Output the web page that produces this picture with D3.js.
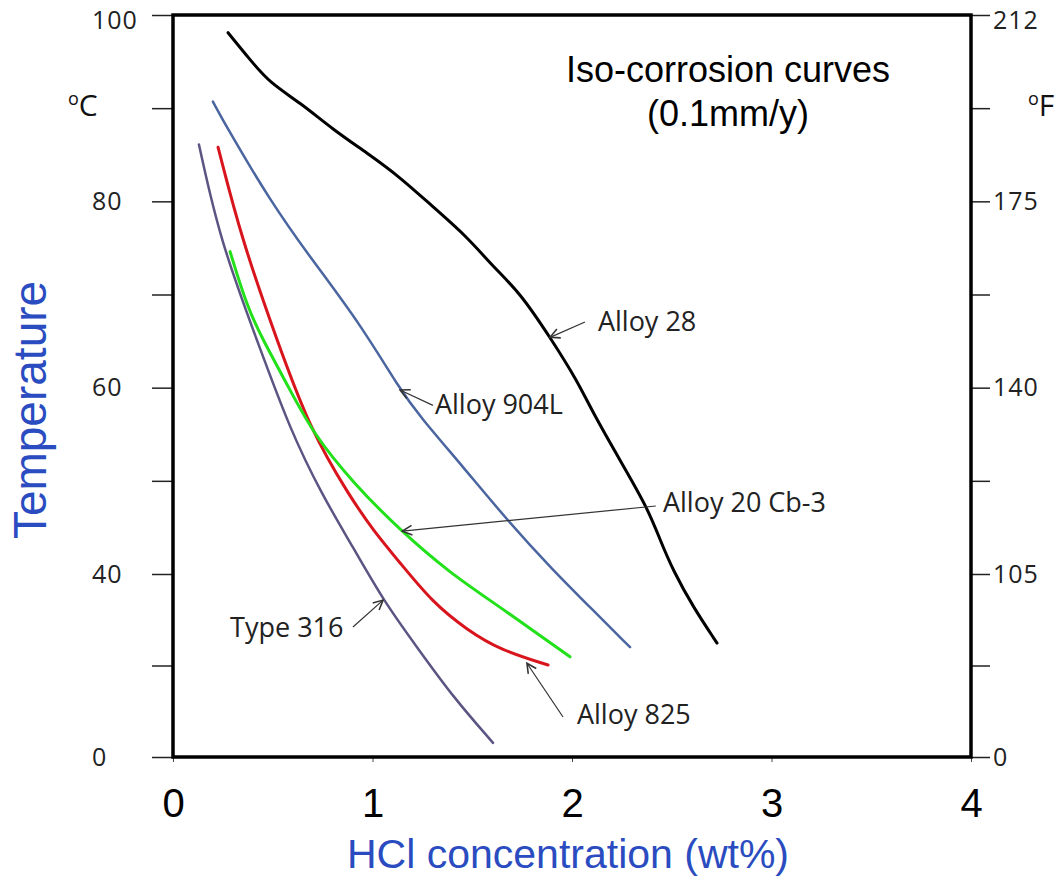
<!DOCTYPE html>
<html>
<head>
<meta charset="utf-8">
<script src="https://cdn.jsdelivr.net/npm/d3@7"></script>
<style>
  body { margin: 0; background: #fff; }
  text { font-family: "Open Sans", "DejaVu Sans", sans-serif; }
</style>
</head>
<body>
<script>
// data: [HCl wt%, temperature °C]
const alloy28 = [[0.276, 98.1], [0.386, 95.2], [0.486, 92.7], [0.637, 90.6], [0.802, 87.7], [0.972, 85.2], [1.138, 82.6], [1.303, 79.4], [1.474, 76.2], [1.604, 73.0], [1.739, 70.2], [1.89, 65.4], [2.025, 60.8], [2.105, 57.3], [2.241, 52.2], [2.376, 47.2], [2.441, 43.7], [2.506, 40.4], [2.607, 32.8], [2.727, 24.9]];
const alloy904L = [[0.2, 90.7], [0.276, 87.7], [0.486, 80.1], [0.687, 74.0], [0.937, 66.9], [1.138, 59.8], [1.238, 56.9], [1.454, 51.5], [1.674, 45.8], [1.905, 40.4], [2.105, 32.1], [2.291, 24.0]];
const type316 = [[0.13, 86.1], [0.236, 75.8], [0.421, 65.1], [0.586, 55.5], [0.752, 48.3], [0.902, 42.9], [1.053, 34.3], [1.223, 24.0], [1.404, 13.1], [1.604, 3.1]];
const alloy825 = [[0.226, 85.8], [0.346, 75.8], [0.521, 65.1], [0.687, 55.5], [0.887, 48.3], [1.003, 44.7], [1.138, 41.2], [1.303, 33.7], [1.474, 27.8], [1.639, 23.4], [1.88, 20.1]];
const alloy20 = [[0.286, 74.6], [0.371, 68.7], [0.451, 65.1], [0.586, 59.8], [0.702, 55.1], [0.902, 49.8], [1.138, 44.7], [1.388, 40.1], [1.639, 32.8], [1.99, 21.9]];

const xTicks = [0, 1, 2, 3, 4];
const cTicks = [0, 20, 40, 50, 60, 70, 80, 90, 100];
const cLabels = ["0", "", "40", "", "60", "", "80", "", "100"];
const fLabels = ["0", "", "105", "", "140", "", "175", "", "212"];

const series = [
  { name: "Alloy 28", data: alloy28, color: "#000000", width: 3 },
  { name: "Alloy 904L", data: alloy904L, color: "#4a65a0", width: 2.5 },
  { name: "Type 316", data: type316, color: "#5a5582", width: 2.5 },
  { name: "Alloy 825", data: alloy825, color: "#d8141c", width: 3 },
  { name: "Alloy 20 Cb-3", data: alloy20, color: "#22e01a", width: 3 }
];

// label text position and arrow [from, to] in data units
const labels = [
  { text: "Alloy 28", at: [2.13, 66.9], arrow: [[2.065, 67.05], [1.89, 65.4]] },
  { text: "Alloy 904L", at: [1.313, 58.0], arrow: [[1.303, 58.1], [1.138, 59.75]] },
  { text: "Alloy 20 Cb-3", at: [2.456, 47.4], arrow: [[2.42, 47.3], [1.15, 44.6]] },
  { text: "Type 316", at: [0.286, 27.8], arrow: [[0.902, 28.4], [1.053, 34.3]] },
  { text: "Alloy 825", at: [2.025, 8.74], arrow: [[1.955, 8.74], [1.774, 20.5]] }
];

const W = 1063, H = 878;
const svg = d3.select('body').append('svg')
  .attr('width', W)
  .attr('height', H);

const x = d3.scaleLinear().domain([0, 4]).range([173, 971]);
// the left axis is squeezed below 40 °C in the original
const y = d3.scaleLinear().domain([0, 40, 100]).range([757, 574, 15]);

function styleTicks(g) {
  g.select('.domain').remove();
  g.selectAll('.tick line').attr('stroke', '#222').attr('stroke-width', 1.5);
  g.selectAll('.tick text')
    .attr('font-size', null).attr('font-family', null)
    .style('font-size', '25px').style('letter-spacing', '1px').attr('fill', '#222')
    .attr('dy', d => d === 100 ? '0.55em' : '0.32em');
}

// left axis
const leftAxis = svg.append('g')
  .attr('transform', 'translate(173,0)')
  .call(d3.axisLeft(y).tickValues(cTicks).tickSize(21).tickPadding(30)
    .tickFormat((d, i) => cLabels[i]));
styleTicks(leftAxis);
leftAxis.selectAll('.tick text').attr('text-anchor', 'start').attr('x', -81);

// right axis
const rightAxis = svg.append('g')
  .attr('transform', 'translate(971,0)')
  .call(d3.axisRight(y).tickValues(cTicks).tickSize(19).tickPadding(3)
    .tickFormat((d, i) => fLabels[i]));
styleTicks(rightAxis);

// bottom axis
const bottomAxis = svg.append('g')
  .attr('transform', 'translate(0,757)')
  .call(d3.axisBottom(x).tickValues(xTicks).tickSize(5).tickPadding(27)
    .tickFormat(d3.format('d')));
bottomAxis.select('.domain').remove();
bottomAxis.selectAll('.tick line').attr('stroke', '#444');
bottomAxis.selectAll('.tick text')
  .style('font-family', 'Arial, "Liberation Sans", sans-serif')
  .style('font-size', '40px').attr('fill', '#000');

// frame
svg.append('rect')
  .attr('x', x(0)).attr('y', y(100))
  .attr('width', x(4) - x(0)).attr('height', y(0) - y(100))
  .attr('fill', 'none').attr('stroke', '#000').attr('stroke-width', 3.5);

// curves (B-spline smooths out reading noise)
const line = d3.line()
  .x(d => x(d[0]))
  .y(d => y(d[1]))
  .curve(d3.curveBasis);

svg.append('g').selectAll('path')
  .data(series)
  .join('path')
  .attr('d', d => line(d.data))
  .attr('fill', 'none')
  .attr('stroke', d => d.color)
  .attr('stroke-width', d => d.width)
  .attr('stroke-linecap', 'round');

// callouts
const defs = svg.append('defs');
defs.append('marker')
  .attr('id', 'arrow')
  .attr('viewBox', '0 0 10 10')
  .attr('refX', 9).attr('refY', 5)
  .attr('markerWidth', 12).attr('markerHeight', 12)
  .attr('markerUnits', 'userSpaceOnUse')
  .attr('orient', 'auto')
  .append('path')
  .attr('d', 'M1,1 L9,5 L1,9')
  .attr('fill', 'none').attr('stroke', '#333').attr('stroke-width', 1.3);

const callouts = svg.append('g');
labels.forEach(l => {
  callouts.append('line')
    .attr('x1', x(l.arrow[0][0])).attr('y1', y(l.arrow[0][1]))
    .attr('x2', x(l.arrow[1][0])).attr('y2', y(l.arrow[1][1]))
    .attr('stroke', '#333').attr('stroke-width', 1.2)
    .attr('marker-end', 'url(#arrow)');
  callouts.append('text')
    .attr('x', x(l.at[0])).attr('y', y(l.at[1]))
    .attr('dominant-baseline', 'middle')
    .style('font-size', '27px').attr('fill', '#222')
    .text(l.text);
});

// title
const title = svg.append('text')
  .attr('text-anchor', 'middle')
  .style('font-family', 'Arial, "Liberation Sans", sans-serif')
  .style('font-size', '36px').attr('fill', '#000');
title.append('tspan').attr('x', 728).attr('y', 82).text('Iso-corrosion curves');
title.append('tspan').attr('x', 728).attr('y', 126).text('(0.1mm/y)');

// unit labels
function unit(xp, letter) {
  const t = svg.append('text')
    .attr('x', xp).attr('y', 116)
    .style('font-size', '30px').attr('fill', '#111');
  t.append('tspan').style('font-size', '18px').attr('dy', -11).text('o');
  t.append('tspan').attr('dy', 11).text(letter);
}
unit(68, 'C');
unit(1028, 'F');

// axis titles
svg.append('text')
  .attr('x', 568).attr('y', 868)
  .attr('text-anchor', 'middle')
  .style('font-family', 'Arial, "Liberation Sans", sans-serif')
  .style('font-size', '41px').attr('fill', '#2a4cc0')
  .text('HCl concentration (wt%)');

svg.append('text')
  .attr('transform', 'translate(46,410) rotate(-90)')
  .attr('text-anchor', 'middle')
  .style('font-family', 'Arial, "Liberation Sans", sans-serif')
  .style('font-size', '46px').attr('fill', '#2a4cc0')
  .text('Temperature');
</script>
</body>
</html>
